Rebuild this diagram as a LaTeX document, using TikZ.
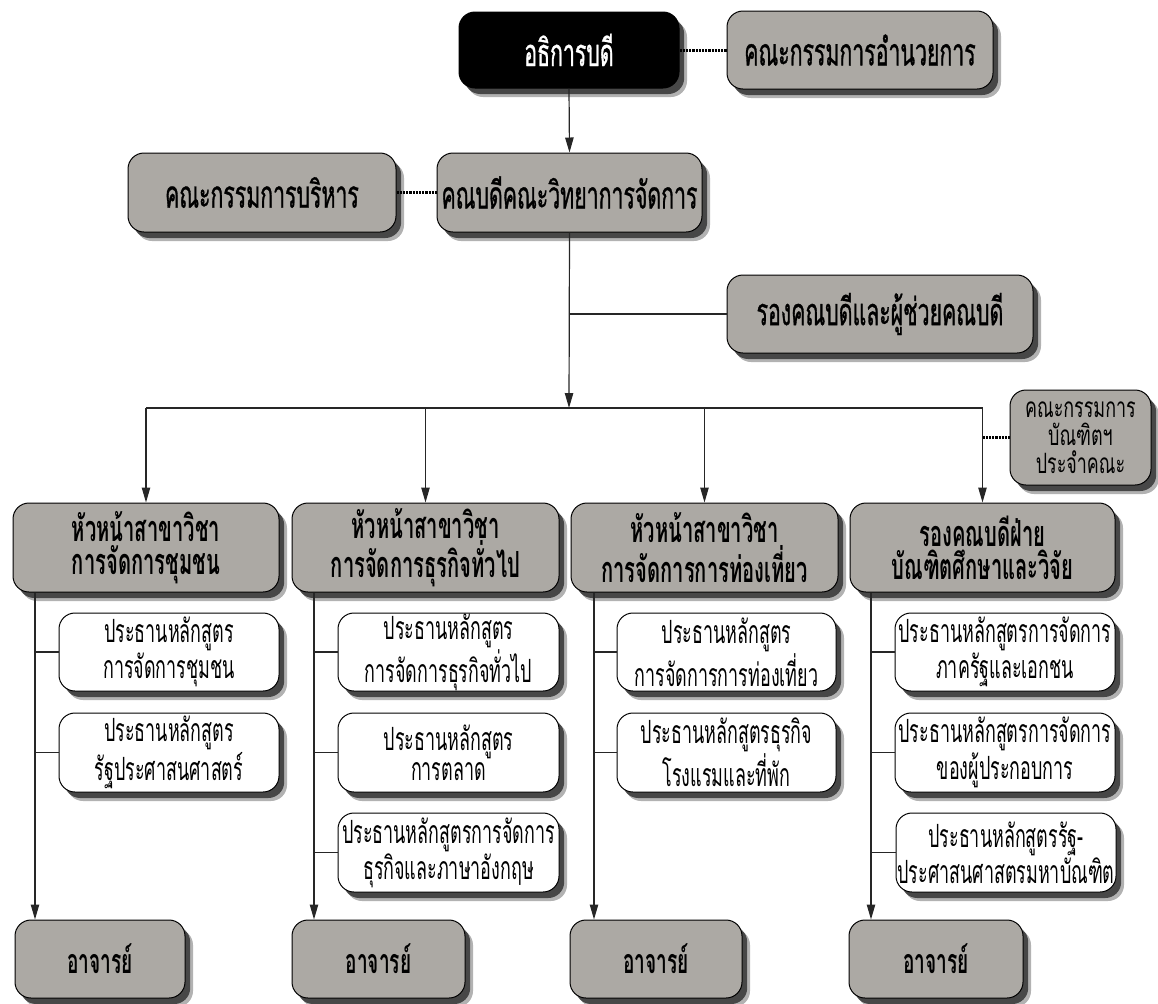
\documentclass[tikz,border=0pt]{standalone}
\usepackage{fontspec}
\usetikzlibrary{arrows.meta,shadows}
\newfontfamily\thai[Script=Thai,FakeStretch=0.56]{Loma}
\newfontfamily\thaimed[Script=Thai,FakeStretch=0.56,FakeBold=0.8]{Loma}
\newfontfamily\thaismall[Script=Thai,FakeStretch=0.64]{Loma}
\definecolor{boxgray}{RGB}{172,169,164}
\begin{document}
\begin{tikzpicture}[x=0.5pt,y=-0.5pt,
  basebox/.style={draw=black, line width=0.5pt, rounded corners=8pt, align=center, inner sep=0pt,
    drop shadow={shadow xshift=4pt, shadow yshift=-4.5pt, fill=black, opacity=0.3},
    drop shadow={shadow xshift=2.6pt, shadow yshift=-3pt, fill=black, opacity=0.6}},
  blackbox/.style={basebox, fill=black, text=white, font=\thaimed\fontsize{19}{21}\selectfont},
  topbox/.style={basebox, fill=boxgray, font=\thaimed\fontsize{19}{21}\selectfont},
  headbox/.style={basebox, fill=boxgray, font=\thai\bfseries\fontsize{18}{16.5}\selectfont},
  smallbox/.style={basebox, fill=boxgray, font=\thaismall\fontsize{14}{14}\selectfont},
  subbox/.style={basebox, fill=white, font=\thai\fontsize{16}{15}\selectfont},
  tbox/.style={basebox, fill=boxgray, font=\thai\bfseries\fontsize{17}{18}\selectfont},
  conn/.style={draw=black!85, line width=0.6pt},
  arr/.style={conn, -{Triangle[length=7.5pt,width=4.2pt]}},
  dotline/.style={draw=black, line width=1.5pt, dash pattern=on 1.1pt off 0.5pt}]
\useasboundingbox (0,0) rectangle (1158,1003);

% level 1
\node[blackbox, minimum width=110pt, minimum height=38pt] (rector) at (569,50) {อธิการบดี};
\node[topbox, minimum width=133pt, minimum height=39pt] (board) at (860,50) {คณะกรรมการอำนวยการ};
% level 2
\node[topbox, minimum width=134pt, minimum height=39.5pt] (exec) at (262,192.5) {คณะกรรมการบริหาร};
\node[topbox, minimum width=132.5pt, minimum height=39.5pt] (dean) at (569.5,192.5) {คณบดีคณะวิทยาการจัดการ};
\node[topbox, minimum width=153pt, minimum height=39pt] (vice) at (880,314) {รองคณบดีและผู้ช่วยคณบดี};
\node[smallbox, minimum width=70.5pt, minimum height=47.5pt] (gradc) at (1080.5,437.5) {คณะกรรมการ\\บัณฑิตฯ\\ประจำคณะ};
% level 3 heads
\node[headbox, minimum width=133pt, minimum height=44.5pt] (h1) at (146,547.5) {หัวหน้าสาขาวิชา\\การจัดการชุมชน};
\node[headbox, minimum width=133.5pt, minimum height=44.5pt] (h2) at (425.5,547.5) {หัวหน้าสาขาวิชา\\การจัดการธุรกิจทั่วไป};
\node[headbox, minimum width=133.5pt, minimum height=44.5pt] (h3) at (704.5,547.5) {หัวหน้าสาขาวิชา\\การจัดการการท่องเที่ยว};
\node[headbox, minimum width=132.5pt, minimum height=44.5pt] (h4) at (982.5,547.5) {รองคณบดีฝ่าย\\บัณฑิตศึกษาและวิจัย};
% sub boxes
\node[subbox, minimum width=110pt, minimum height=39pt] (s11) at (169,652) {ประธานหลักสูตร\\การจัดการชุมชน};
\node[subbox, minimum width=110pt, minimum height=39.5pt] (s12) at (169,752.5) {ประธานหลักสูตร\\รัฐประศาสนศาสตร์};
\node[subbox, minimum width=110.5pt, minimum height=39pt] (s21) at (448.5,652) {ประธานหลักสูตร\\การจัดการธุรกิจทั่วไป};
\node[subbox, minimum width=110.5pt, minimum height=39.5pt] (s22) at (448.5,752.5) {ประธานหลักสูตร\\การตลาด};
\node[subbox, minimum width=110.5pt, minimum height=39.5pt] (s23) at (448.5,852.5) {ประธานหลักสูตรการจัดการ\\ธุรกิจและภาษาอังกฤษ};
\node[subbox, minimum width=109.5pt, minimum height=39pt] (s31) at (726.5,652) {ประธานหลักสูตร\\การจัดการการท่องเที่ยว};
\node[subbox, minimum width=109.5pt, minimum height=39.5pt] (s32) at (726.5,752.5) {ประธานหลักสูตรธุรกิจ\\โรงแรมและที่พัก};
\node[subbox, minimum width=110pt, minimum height=39pt] (s41) at (1005,652) {ประธานหลักสูตรการจัดการ\\ภาครัฐและเอกชน};
\node[subbox, minimum width=110pt, minimum height=39.5pt] (s42) at (1005,752.5) {ประธานหลักสูตรการจัดการ\\ของผู้ประกอบการ};
\node[subbox, minimum width=110pt, minimum height=39.5pt] (s43) at (1006,852.5) {ประธานหลักสูตรรัฐ-\\ประศาสนศาสตรมหาบัณฑิต};
% teachers
\node[tbox, minimum width=85pt, minimum height=39pt] (t1) at (100,959) {อาจารย์};
\node[tbox, minimum width=86.5pt, minimum height=39pt] (t2) at (378.5,959) {อาจารย์};
\node[tbox, minimum width=86pt, minimum height=39pt] (t3) at (656,959) {อาจารย์};
\node[tbox, minimum width=87pt, minimum height=39pt] (t4) at (936,959) {อาจารย์};

% connectors
\coordinate (jv) at (569,408);
\coordinate (c1) at (35,0);
\coordinate (c2) at (314,0);
\coordinate (c3) at (594,0);
\coordinate (c4) at (871,0);

\draw[dotline] (rector.east) -- (board.west);
\draw[arr] (rector.south) -- (dean.north);
\draw[dotline] (exec.east) -- (dean.west);
\draw[arr] (dean.south) -- (jv);
\draw[conn] (dean.south |- vice.west) -- (vice.west);
\draw[conn] (h1.north |- jv) -- (h4.north |- jv);
\draw[arr] (h1.north |- jv) -- (h1.north);
\draw[arr] (h2.north |- jv) -- (h2.north);
\draw[arr] (h3.north |- jv) -- (h3.north);
\draw[arr] (h4.north |- jv) -- (h4.north);
\draw[dotline] (h4.north |- gradc.west) -- (gradc.west);

\draw[arr] (c1 |- h1.south) -- (c1 |- t1.north);
\draw[conn] (c1 |- s11.west) -- (s11.west);
\draw[conn] (c1 |- s12.west) -- (s12.west);
\draw[arr] (c2 |- h2.south) -- (c2 |- t2.north);
\draw[conn] (c2 |- s21.west) -- (s21.west);
\draw[conn] (c2 |- s22.west) -- (s22.west);
\draw[conn] (c2 |- s23.west) -- (s23.west);
\draw[arr] (c3 |- h3.south) -- (c3 |- t3.north);
\draw[conn] (c3 |- s31.west) -- (s31.west);
\draw[conn] (c3 |- s32.west) -- (s32.west);
\draw[arr] (c4 |- h4.south) -- (c4 |- t4.north);
\draw[conn] (c4 |- s41.west) -- (s41.west);
\draw[conn] (c4 |- s42.west) -- (s42.west);
\draw[conn] (c4 |- s43.west) -- (s43.west);
\end{tikzpicture}
\end{document}
